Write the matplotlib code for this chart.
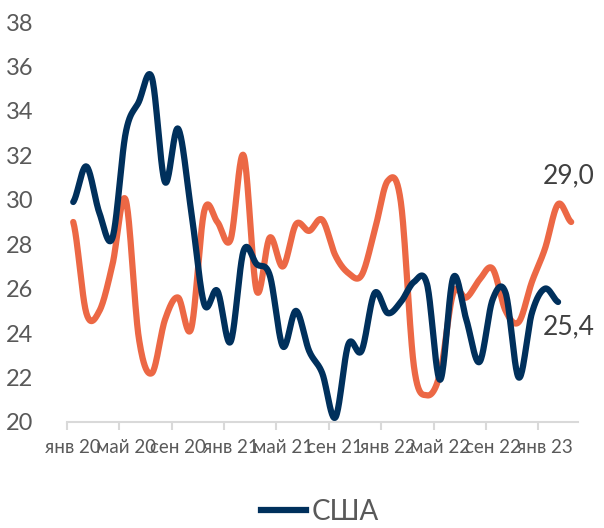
import numpy as np
import matplotlib
matplotlib.use("Agg")
import matplotlib.pyplot as plt
from matplotlib.lines import Line2D

plt.rcParams['font.family'] = ['Lato', 'Noto Sans', 'DejaVu Sans']

# Monthly values, Jan 2020 .. Mar 2023
months = ["янв 20", "фев 20", "мар 20", "апр 20", "май 20", "июн 20", "июл 20", "авг 20",
          "сен 20", "окт 20", "ноя 20", "дек 20", "янв 21", "фев 21", "мар 21", "апр 21",
          "май 21", "июн 21", "июл 21", "авг 21", "сен 21", "окт 21", "ноя 21", "дек 21",
          "янв 22", "фев 22", "мар 22", "апр 22", "май 22", "июн 22", "июл 22", "авг 22",
          "сен 22", "окт 22", "ноя 22", "дек 22", "янв 23", "фев 23", "мар 23"]

usa = [29.9, 31.5, 29.4, 28.3, 33.0, 34.4, 35.5, 30.8, 33.2, 29.5,
       25.3, 25.9, 23.6, 27.7, 27.1, 26.6, 23.4, 25.0, 23.2, 22.2,
       20.2, 23.5, 23.2, 25.8, 24.9, 25.4, 26.3, 26.2, 21.9, 26.5,
       24.6, 22.7, 25.5, 25.8, 22.0, 24.9, 26.0, 25.4]

other = [29.0, 24.9, 25.0, 27.1, 30.0, 23.8, 22.2, 24.6, 25.6, 24.2,
         29.5, 29.0, 28.2, 32.0, 25.9, 28.3, 27.0, 28.9, 28.6, 29.1,
         27.5, 26.7, 26.6, 28.6, 30.85, 29.9, 22.5, 21.2, 22.2, 25.8,
         25.6, 26.4, 26.9, 25.0, 24.5, 26.3, 27.8, 29.8, 29.0]

navy = "#00305C"
orange = "#EC6845"


def smooth(y, n=24):
    # Catmull-Rom curve through the points (like Excel's smoothed line)
    y = np.asarray(y, float)
    x = np.arange(len(y), dtype=float)
    px = np.concatenate([[2 * x[0] - x[1]], x, [2 * x[-1] - x[-2]]])
    py = np.concatenate([[y[0]], y, [y[-1]]])
    xs, ys = [], []
    t = np.linspace(0, 1, n, endpoint=False)
    for i in range(1, len(px) - 2):
        for p, out in ((px, xs), (py, ys)):
            p0, p1, p2, p3 = p[i - 1], p[i], p[i + 1], p[i + 2]
            out.append(0.5 * (2 * p1 + (-p0 + p2) * t
                              + (2 * p0 - 5 * p1 + 4 * p2 - p3) * t ** 2
                              + (-p0 + 3 * p1 - 3 * p2 + p3) * t ** 3))
    xs.append([x[-1]])
    ys.append([y[-1]])
    return np.concatenate(xs), np.concatenate(ys)


fig = plt.figure(figsize=(6.04, 5.28), dpi=100)
ax = fig.add_axes([0.1104, 0.2008, 0.8461, 0.7575])

xo, yo = smooth(other)
ax.plot(xo, yo, color=orange, lw=4.5, solid_capstyle="round")
xu, yu = smooth(usa)
ax.plot(xu, yu, color=navy, lw=4.5, solid_capstyle="round")

ax.set_xlim(-0.5, len(months) - 0.5)
ax.set_ylim(20, 38)
ax.set_yticks(range(20, 39, 2))
ax.set_xticks(range(0, len(months), 4))
ax.set_xticklabels([months[i] for i in range(0, len(months), 4)])
ax.set_xticks(np.arange(-0.5, len(months), 4), minor=True)

for s in ["top", "right", "left"]:
    ax.spines[s].set_visible(False)
ax.spines["bottom"].set_color("#D9D9D9")
ax.spines["bottom"].set_linewidth(1.5)

ax.tick_params(axis="y", length=0, pad=24, labelsize=17, labelcolor="#595959")
ax.tick_params(axis="x", which="major", length=0, pad=12, labelsize=13.5, labelcolor="#595959")
ax.tick_params(axis="x", which="minor", length=6, width=1.5, color="#D9D9D9")

ax.text(37.8, 31.1, "29,0", ha="center", va="center", fontsize=19, color="#404040", clip_on=False)
ax.text(37.8, 24.3, "25,4", ha="center", va="center", fontsize=19, color="#404040", clip_on=False)

handle = Line2D([], [], color=navy, lw=4.5)
fig.legend([handle], ["США"], loc="center", bbox_to_anchor=(0.53, 0.03), frameon=False,
           fontsize=20, labelcolor="#595959", handlelength=1.6, handletextpad=0.2,
           borderpad=0.1)

fig.savefig("out.png", dpi=100)
